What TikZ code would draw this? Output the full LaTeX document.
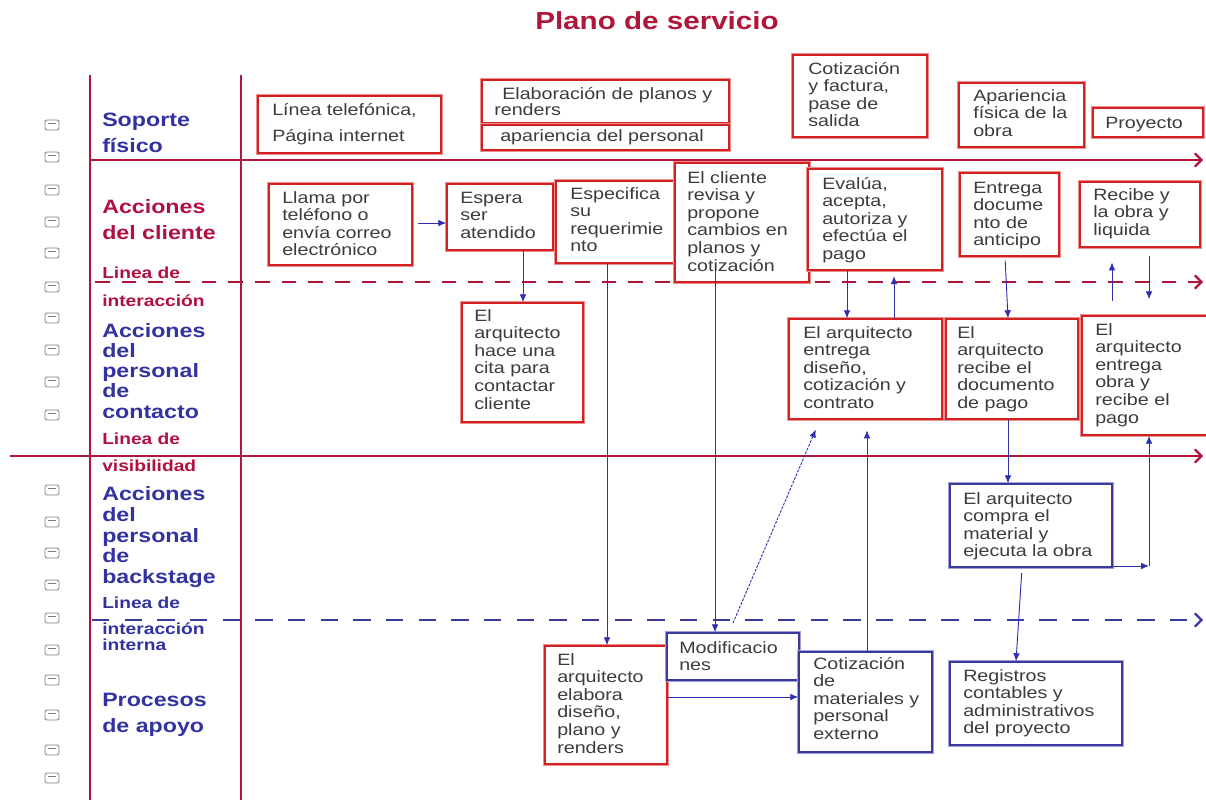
\documentclass[tikz,border=0pt]{standalone}
\usepackage{fontspec}
\setmainfont{Liberation Sans}[FakeStretch=1.2]
\usetikzlibrary{arrows.meta,fit}
\definecolor{gridred}{HTML}{B0153A}
\definecolor{lblred}{HTML}{B01040}
\definecolor{lblblue}{HTML}{3232A0}
\definecolor{boxred}{HTML}{D42020}
\definecolor{boxpink}{HTML}{E89090}
\definecolor{boxblue}{HTML}{3A3A9E}
\definecolor{boxlblue}{HTML}{A0A0D8}
\definecolor{connblue}{HTML}{2F2FB0}
\definecolor{txtgray}{HTML}{3C3C3C}
\definecolor{icongray}{HTML}{808080}
\newcommand\bx[6]{\node[#6, fit={(#2,#3)(#4,#5)}] (#1) {};}
\newcommand\tx[4]{\node[txt, anchor=base west] (#1) at (#2,#3) {\begin{tabular}[t]{@{}l@{}}#4\end{tabular}};}
\begin{document}
\begin{tikzpicture}[x=0.75pt,y=-0.75pt,
  rbox/.style={rectangle, inner sep=0pt, fill=white, draw=boxred, line width=1.1pt, preaction={draw=boxpink, line width=2.8pt}},
  bbox/.style={rectangle, inner sep=0pt, fill=white, draw=boxblue, line width=1.1pt, preaction={draw=boxlblue, line width=2.4pt}},
  txt/.style={inner sep=0pt, text=txtgray, font=\fontsize{12.3}{13.2}\selectfont},
  lblbig/.style={inner sep=0pt, font=\fontsize{14.5}{16}\selectfont\bfseries},
  lblsm/.style={inner sep=0pt, font=\fontsize{12}{13}\selectfont\bfseries},
  gline/.style={draw=gridred, line width=1.7pt},
  tip/.style={-{Straight Barb[length=5pt,width=10pt]}},
  conn/.style={draw=connblue, line width=0.7pt, -{Latex[length=6pt,width=5pt]}},
  icon/.style={draw=icongray, line width=0.6pt, rounded corners=1.5pt}
]
\useasboundingbox (0,0) rectangle (1206,800);
% title
\node[inner sep=0pt, text=gridred, font=\fontsize{18.5}{20}\selectfont\bfseries] (title) at (657,21) {Plano de servicio};
% grid
\draw[gline] (90,75) -- (90,800);
\draw[gline] (241,75) -- (241,800);
\draw[gline, tip] (90,160) -- (1203,160);
\draw[gline, tip, dash pattern=on 11pt off 9pt] (95,282) -- (1203,282);
\draw[gline, tip] (10,456) -- (1203,456);
\draw[draw=boxblue, line width=1.7pt, tip, dash pattern=on 13pt off 11.5pt] (92,620) -- (1203,620);
% icons
\foreach \yy in {125,157,190,222,253,287,318,350,382,415,490,522,553,585,618,650,680,715,750,778}{
  \draw[icon] (45,\yy-5) rectangle (59,\yy+5);
  \draw[icon] (48,\yy-2) -- (56,\yy-2);
}
% left labels
\node[lblbig, text=lblblue, anchor=base west] (s1) at (102,126) {Soporte};
\node[lblbig, text=lblblue, anchor=base west] (s2) at (102,152) {físico};
\node[lblbig, text=lblred, anchor=base west] (c1) at (102,213) {Acciones};
\node[lblbig, text=lblred, anchor=base west] (c2) at (102,239) {del cliente};
\node[lblsm, text=lblred, anchor=base west] (i1) at (102,278) {Linea de};
\node[lblsm, text=lblred, anchor=base west] (i2) at (102,306) {interacción};
\node[lblbig, text=lblblue, anchor=base west] (p1) at (102,337) {Acciones};
\node[lblbig, text=lblblue, anchor=base west] (p2) at (102,357) {del};
\node[lblbig, text=lblblue, anchor=base west] (p3) at (102,377) {personal};
\node[lblbig, text=lblblue, anchor=base west] (p4) at (102,397) {de};
\node[lblbig, text=lblblue, anchor=base west] (p5) at (102,418) {contacto};
\node[lblsm, text=lblred, anchor=base west] (v1) at (102,444) {Linea de};
\node[lblsm, text=lblred, anchor=base west] (v2) at (102,471) {visibilidad};
\node[lblbig, text=lblblue, anchor=base west] (b1) at (102,500) {Acciones};
\node[lblbig, text=lblblue, anchor=base west] (b2) at (102,521) {del};
\node[lblbig, text=lblblue, anchor=base west] (b3) at (102,542) {personal};
\node[lblbig, text=lblblue, anchor=base west] (b4) at (102,562) {de};
\node[lblbig, text=lblblue, anchor=base west] (b5) at (102,583) {backstage};
\node[lblsm, text=lblblue, anchor=base west] (n1) at (102,608) {Linea de};
\node[lblsm, text=lblblue, anchor=base west] (n2) at (102,634) {interacción};
\node[lblsm, text=lblblue, anchor=base west] (n3) at (102,650) {interna};
\node[lblbig, text=lblblue, anchor=base west] (a1) at (102,706) {Procesos};
\node[lblbig, text=lblblue, anchor=base west] (a2) at (102,732) {de apoyo};
% boxes
\bx{lt}{258}{96}{441}{153}{rbox}
\bx{elab}{482}{80}{729}{123}{rbox}
\bx{apar}{482}{125}{729}{150}{rbox}
\bx{cotf}{793}{55}{927}{137}{rbox}
\bx{apfi}{959}{83}{1084}{147}{rbox}
\bx{proy}{1093}{108}{1203}{137}{rbox}
\bx{llama}{269}{184}{412}{265}{rbox}
\bx{espera}{447}{184}{553}{250}{rbox}
\bx{espec}{556}{181}{676}{263}{rbox}
\bx{revisa}{675}{163}{809}{282}{rbox}
\bx{evalua}{808}{169}{942}{270}{rbox}
\bx{entdoc}{960}{173}{1059}{256}{rbox}
\bx{recibe}{1080}{182}{1200}{247}{rbox}
\bx{cita}{462}{303}{583}{422}{rbox}
\bx{entdis}{789}{319}{942}{419}{rbox}
\bx{recdoc}{946}{319}{1078}{419}{rbox}
\bx{entobra}{1082}{316}{1214}{435}{rbox}
\bx{compra}{950}{484}{1112}{567}{bbox}
\bx{elabora}{545}{646}{667}{764}{rbox}
\bx{modif}{667}{633}{799}{680}{bbox}
\bx{cotmat}{799}{652}{932}{752}{bbox}
\bx{regis}{950}{662}{1122}{745}{bbox}
% texts
\tx{tlt}{272}{115}{Línea telefónica,\\[7pt]Página internet}
\tx{telab}{494}{99}{\hspace*{6pt}Elaboración de planos y\\[-0.5pt]renders}
\tx{tapar}{500}{141}{apariencia del personal}
\tx{tcotf}{808}{74}{Cotización\\y factura,\\pase de\\salida}
\tx{tapfi}{973}{101}{Apariencia\\física de la\\obra}
\tx{tproy}{1105}{128}{Proyecto}
\tx{tllama}{282}{203}{Llama por\\teléfono o\\envía correo\\electrónico}
\tx{tespera}{460}{203}{Espera\\ser\\atendido}
\tx{tespec}{570}{199}{Especifica\\su\\requerimie\\nto}
\tx{trevisa}{687}{183}{El cliente\\revisa y\\propone\\cambios en\\planos y\\cotización}
\tx{tevalua}{822}{189}{Evalúa,\\acepta,\\autoriza y\\efectúa el\\pago}
\tx{tentdoc}{973}{193}{Entrega\\docume\\nto de\\anticipo}
\tx{trecibe}{1093}{200}{Recibe y\\la obra y\\liquida}
\tx{tcita}{474}{321}{El\\arquitecto\\hace una\\cita para\\contactar\\cliente}
\tx{tentdis}{803}{338}{El arquitecto\\entrega\\diseño,\\cotización y\\contrato}
\tx{trecdoc}{957}{338}{El\\arquitecto\\recibe el\\documento\\de pago}
\tx{tentobra}{1095}{335}{El\\arquitecto\\entrega\\obra y\\recibe el\\pago}
\tx{tcompra}{963}{504}{El arquitecto\\compra el\\material y\\ejecuta la obra}
\tx{telabora}{557}{665}{El\\arquitecto\\elabora\\diseño,\\plano y\\renders}
\tx{tmodif}{679}{653}{Modificacio\\nes}
\tx{tcotmat}{813}{669}{Cotización\\de\\materiales y\\personal\\externo}
\tx{tregis}{963}{681}{Registros\\contables y\\administrativos\\del proyecto}
% connectors
\coordinate (la) at (418,223);
\draw[conn] (la) -- (espera.west |- la);
\draw[conn] (523,0 |- espera.south) -- (523,0 |- cita.north);
\draw[conn] (607,0 |- espec.south) -- (607,0 |- elabora.north);
\draw[conn, shorten <=-9pt] (715,0 |- revisa.south) -- (715,0 |- modif.north);
\coordinate (md) at (733,623);
\draw[conn, dash pattern=on 2pt off 1pt, shorten >=8pt] (md) -- (820,0 |- entdis.south);
\draw[conn, shorten >=8pt] (867,0 |- cotmat.north) -- (867,0 |- entdis.south);
\draw[conn] (847,0 |- evalua.south) -- (847,0 |- entdis.north);
\draw[conn, shorten >=4pt] (894,0 |- entdis.north) -- (894,0 |- evalua.south);
\draw[conn, shorten <=3pt] (1005,0 |- entdoc.south) -- (1008,0 |- recdoc.north);
\draw[conn] (1008,0 |- recdoc.south) -- (1008,0 |- compra.north);
\draw[conn, shorten <=4pt] (1022,0 |- compra.south) -- (1016,0 |- regis.north);
\coordinate (cr) at (1149,566);
\draw[conn] (compra.east |- cr) -- (cr);
\draw[conn] (cr) -- (1149,0 |- entobra.south);
\draw[conn, shorten <=10.5pt, shorten >=11pt] (1112,0 |- entobra.north) -- (1112,0 |- recibe.south);
\draw[conn, shorten <=6pt, shorten >=12pt] (1149,0 |- recibe.south) -- (1149,0 |- entobra.north);
\draw[conn] (elabora.east |- 0,697) -- (cotmat.west |- 0,697);
\end{tikzpicture}
\end{document}
